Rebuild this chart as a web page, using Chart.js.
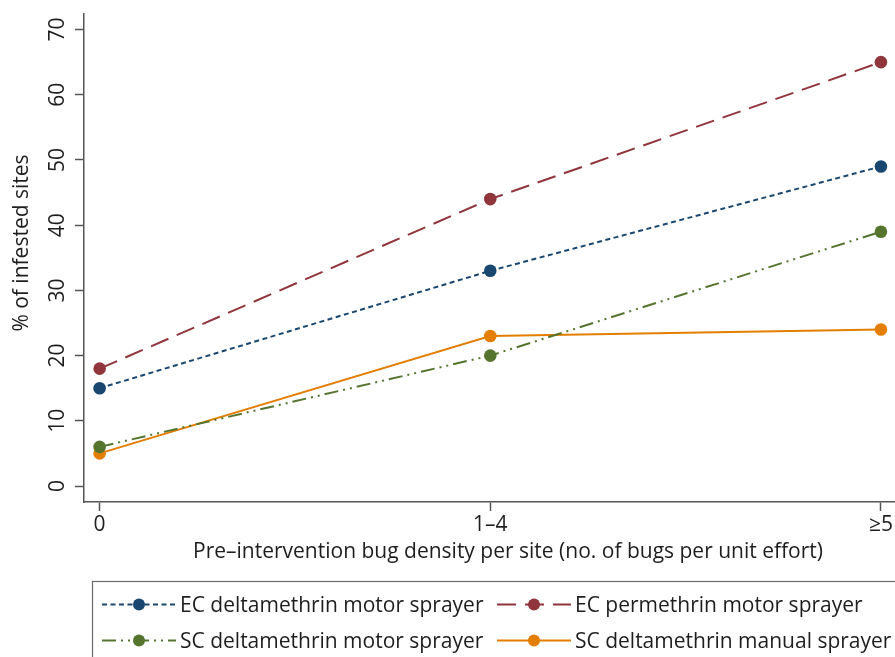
<!DOCTYPE html>
<html>
<head>
<meta charset="utf-8">
<script src="https://cdn.jsdelivr.net/npm/chart.js@4.4.1/dist/chart.umd.min.js"></script>
<style>
  html, body { margin: 0; padding: 0; background: #fff; overflow: hidden; }
  #wrap { width: 895px; height: 657px; }
</style>
</head>
<body>
<div id="wrap"><canvas id="chart" width="895" height="657"></canvas></div>
<script>
// Pre-intervention bug density classes (x axis)
const categories = ['0', '1\u20134', '\u22655'];

// % of sites still infested after treatment, per spraying arm
const ecDeltaMotor  = [15, 33, 49];
const ecPermMotor   = [18, 44, 65];
const scDeltaMotor  = [6, 20, 39];
const scDeltaManual = [5, 23, 24];

const seriesNames = [
  'EC deltamethrin motor sprayer',
  'EC permethrin motor sprayer',
  'SC deltamethrin motor sprayer',
  'SC deltamethrin manual sprayer'
];

const yTickValues = [0, 10, 20, 30, 40, 50, 60, 70];

const yTitle = '% of infested sites';
const xTitle = 'Pre\u2013intervention bug density per site (no. of bugs per unit effort)';

const FONT = '"Open Sans", "Noto Sans", sans-serif';
const FSIZE = 21;
const TEXT = '#1e1e1e';
const AXIS = '#555555';

const colors = ['#1a476f', '#90353b', '#55752f', '#e37e00'];
const dashes = [[5, 3.5], [19, 9], [14, 5, 2, 5, 2, 5], []];

function toPoints(arr) {
  return arr.map((v, i) => ({ x: i, y: v }));
}

const seriesValues = [ecDeltaMotor, ecPermMotor, scDeltaMotor, scDeltaManual];

const datasets = seriesValues.map((vals, i) => ({
  label: seriesNames[i],
  data: toPoints(vals),
  borderColor: colors[i],
  backgroundColor: colors[i],
  pointBackgroundColor: colors[i],
  pointBorderColor: colors[i],
  pointBorderWidth: 0,
  pointRadius: 6.3,
  borderWidth: 2,
  borderDash: dashes[i],
  tension: 0,
  fill: false
}));

// Extra drawing: rotated y labels, axis titles and the boxed legend
const decorations = {
  id: 'decorations',
  afterDraw(chart) {
    const ctx = chart.ctx;
    const yScale = chart.scales.y;
    ctx.save();
    ctx.fillStyle = TEXT;
    ctx.font = FSIZE + 'px ' + FONT;

    // y tick labels, reading bottom to top
    yScale.ticks.forEach(t => {
      const py = yScale.getPixelForValue(t.value);
      ctx.save();
      ctx.translate(63.5, py);
      ctx.rotate(-Math.PI / 2);
      ctx.textAlign = 'center';
      ctx.textBaseline = 'alphabetic';
      ctx.fillText(String(t.value), 0, 0);
      ctx.restore();
    });

    // y title
    ctx.save();
    ctx.translate(28, 243);
    ctx.rotate(-Math.PI / 2);
    ctx.textAlign = 'center';
    ctx.textBaseline = 'alphabetic';
    ctx.fillText(yTitle, 0, 0);
    ctx.restore();

    // x title
    ctx.textAlign = 'center';
    ctx.textBaseline = 'alphabetic';
    ctx.fillText(xTitle, 508, 558);

    // legend frame
    ctx.strokeStyle = '#6a6a6a';
    ctx.lineWidth = 1.2;
    ctx.strokeRect(92.5, 581.5, 900, 100);

    const cols = [{ x0: 102, x1: 176, tx: 180 }, { x0: 497, x1: 571, tx: 575 }];
    const rows = [604.5, 640.5];
    chart.data.datasets.forEach((ds, i) => {
      const c = cols[i % 2];
      const y = rows[Math.floor(i / 2)];
      ctx.save();
      ctx.strokeStyle = ds.borderColor;
      ctx.lineWidth = ds.borderWidth;
      ctx.setLineDash(ds.borderDash || []);
      ctx.beginPath();
      ctx.moveTo(c.x0, y);
      ctx.lineTo(c.x1, y);
      ctx.stroke();
      ctx.setLineDash([]);
      ctx.fillStyle = ds.pointBackgroundColor;
      ctx.beginPath();
      ctx.arc((c.x0 + c.x1) / 2, y, 6, 0, Math.PI * 2);
      ctx.fill();
      ctx.restore();
      ctx.fillStyle = TEXT;
      ctx.textAlign = 'left';
      ctx.textBaseline = 'alphabetic';
      ctx.fillText(ds.label, c.tx, y + 7.5);
    });
    ctx.restore();
  }
};

new Chart(document.getElementById('chart'), {
  type: 'line',
  data: { datasets },
  options: {
    responsive: false,
    animation: false,
    devicePixelRatio: 1,
    layout: { autoPadding: false, padding: { left: 0, right: 0, top: 14, bottom: 100 } },
    plugins: {
      legend: { display: false },
      tooltip: { enabled: false }
    },
    scales: {
      x: {
        type: 'linear',
        min: -0.04,
        max: 2.036,
        afterBuildTicks(scale) {
          scale.ticks = categories.map((_, i) => ({ value: i }));
        },
        afterFit(scale) {
          scale.height = 55;
          scale.paddingLeft = 0;
          scale.paddingRight = 0;
        },
        ticks: {
          callback: v => categories[v] ?? '',
          color: TEXT,
          font: { family: FONT, size: FSIZE },
          padding: 1,
          maxRotation: 0,
          autoSkip: false
        },
        grid: {
          display: true,
          drawOnChartArea: false,
          drawTicks: true,
          tickLength: 9,
          tickWidth: 1.5,
          tickColor: AXIS
        },
        border: { display: true, color: AXIS, width: 1.5 }
      },
      y: {
        type: 'linear',
        min: -2.45,
        max: 72.38,
        afterBuildTicks(scale) {
          scale.ticks = yTickValues.map(v => ({ value: v }));
        },
        afterFit(scale) {
          scale.width = 84;
          scale.paddingTop = 0;
          scale.paddingBottom = 0;
        },
        ticks: {
          color: 'rgba(0,0,0,0)',
          font: { family: FONT, size: FSIZE },
          padding: 4
        },
        grid: {
          display: true,
          drawOnChartArea: false,
          drawTicks: true,
          tickLength: 9,
          tickWidth: 1.5,
          tickColor: AXIS
        },
        border: { display: true, color: AXIS, width: 1.5 }
      }
    }
  },
  plugins: [decorations]
});
</script>
</body>
</html>
